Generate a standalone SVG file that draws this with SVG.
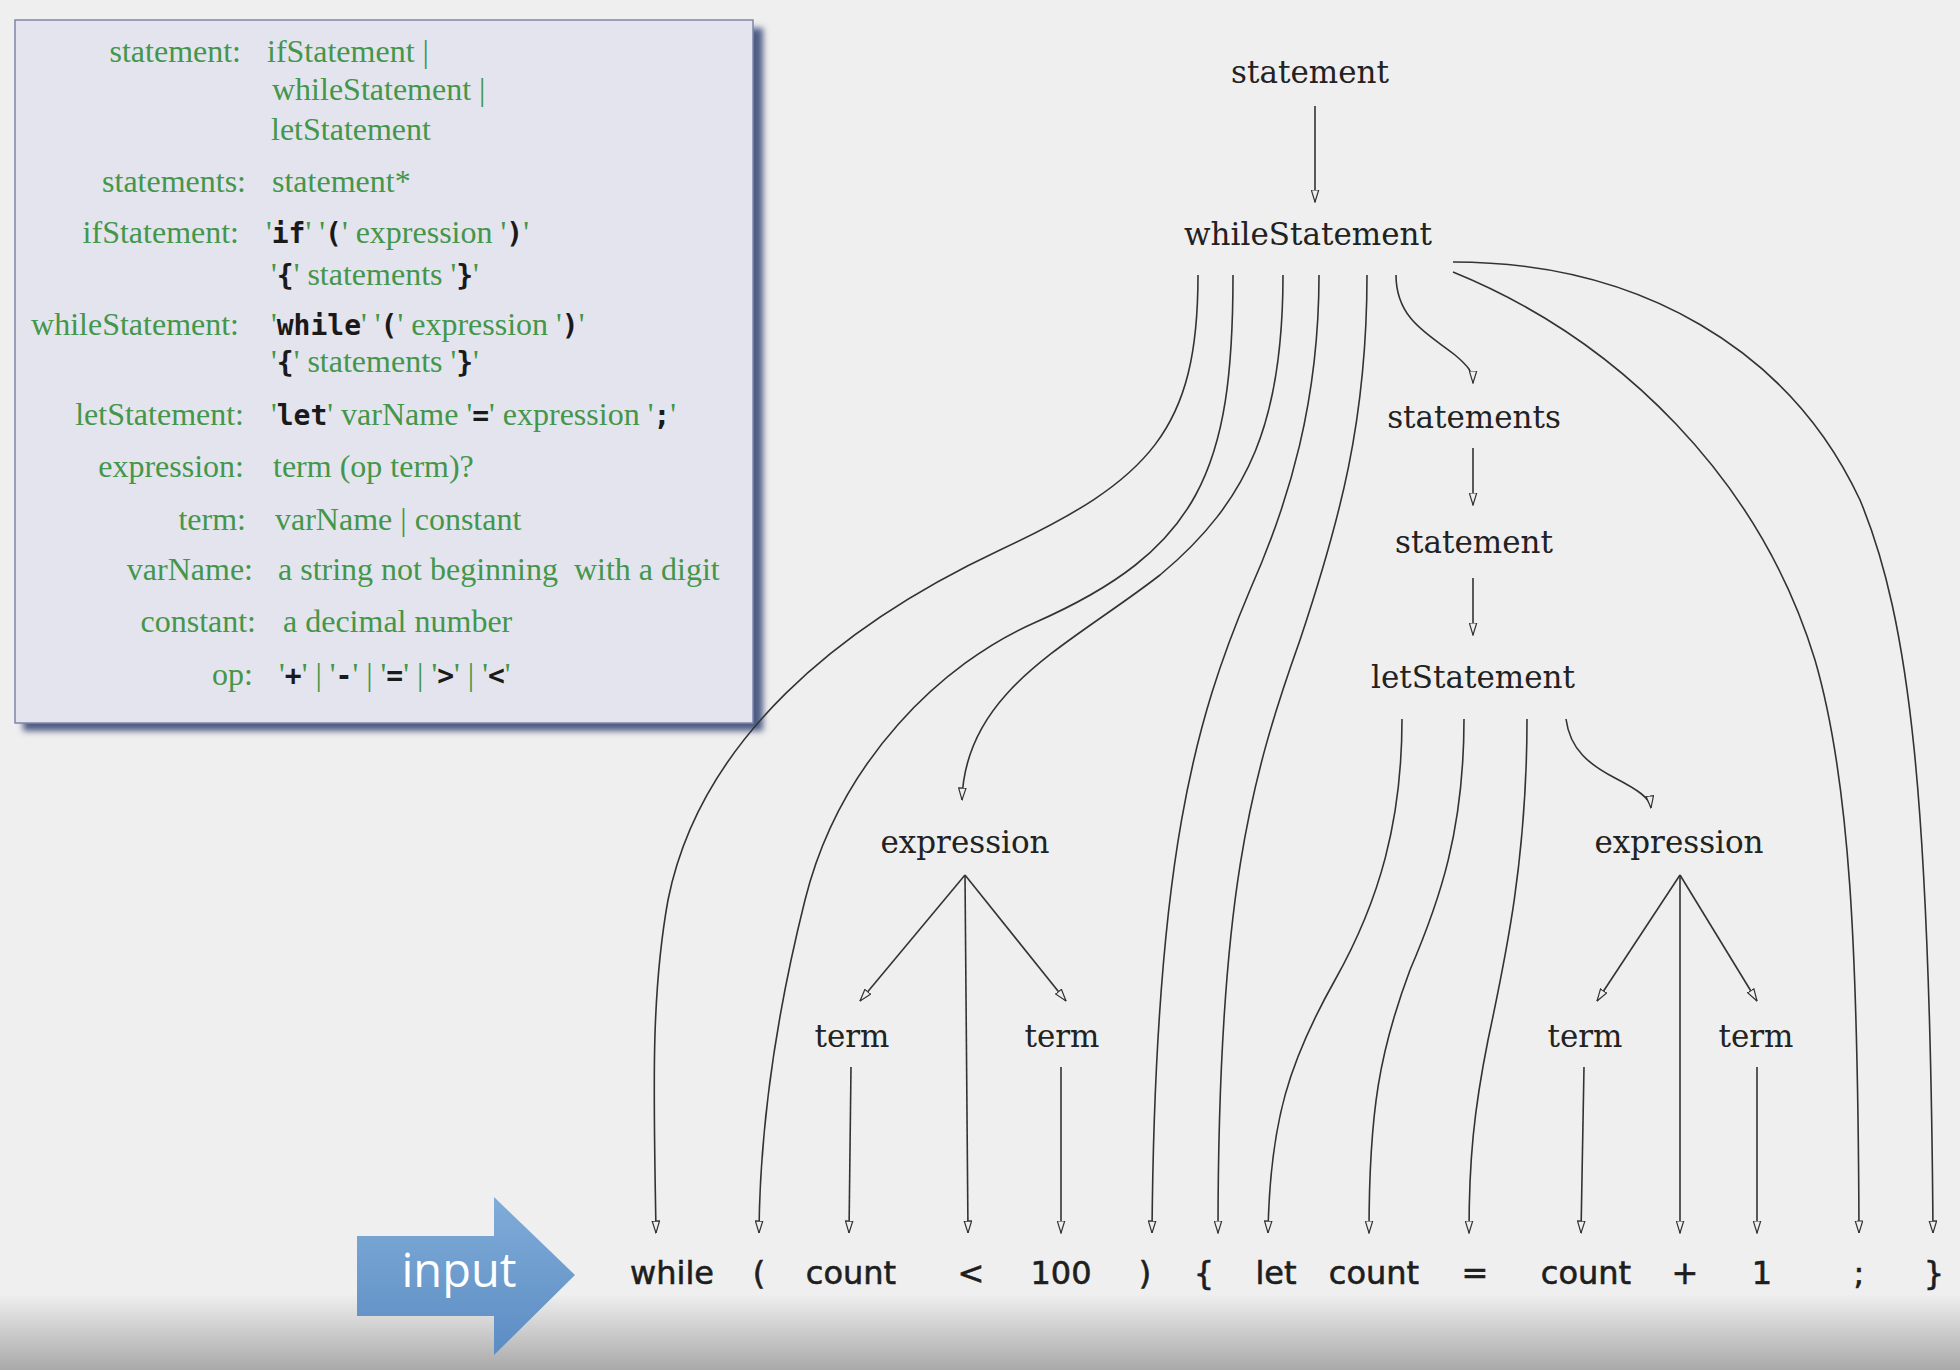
<svg xmlns="http://www.w3.org/2000/svg" width="1960" height="1370" viewBox="0 0 1960 1370">
<defs>
<style>
.g{font-family:"Liberation Serif",serif;font-size:32px;fill:#43964a}
.k{font-family:"DejaVu Sans Mono",monospace;font-weight:bold;font-size:28px;fill:#1a1a1a}
.n{font-family:"DejaVu Serif",serif;font-size:31px;fill:#222;text-anchor:middle}
.t{font-family:"DejaVu Sans",sans-serif;font-size:32px;fill:#1e1e1e;stroke:#1e1e1e;stroke-width:0.6;text-anchor:middle}
.c{fill:none;stroke:#333;stroke-width:1.6;marker-end:url(#arr)}
</style>
<marker id="arr" viewBox="0 0 13 9" refX="12.5" refY="4.5" markerWidth="13" markerHeight="9" markerUnits="userSpaceOnUse" orient="auto">
<path d="M0.5,0.8 L12.5,4.5 L0.5,8.2 Z" fill="#efefef" stroke="#333" stroke-width="1.2"/>
</marker>
<linearGradient id="bot" x1="0" y1="0" x2="0" y2="1">
<stop offset="0" stop-color="#eeeeee"/>
<stop offset="1" stop-color="#a9a9a9"/>
</linearGradient>
<linearGradient id="blue" x1="0" y1="0" x2="0" y2="1">
<stop offset="0" stop-color="#80acd8"/>
<stop offset="1" stop-color="#5b8cc3"/>
</linearGradient>
<filter id="sh" x="-5%" y="-5%" width="110%" height="110%">
<feGaussianBlur stdDeviation="3"/>
</filter>
</defs>
<rect x="0" y="0" width="1960" height="1370" fill="#efefef"/>
<rect x="0" y="1295" width="1960" height="75" fill="url(#bot)"/>

<g id="grammar">
<rect x="23" y="28" width="740" height="703" fill="#4f5d86" filter="url(#sh)"/>
<rect x="15" y="20" width="738" height="703" fill="#e4e4ee" stroke="#7f87a8" stroke-width="1.5"/>
<text class="g" x="241" y="62" text-anchor="end">statement:</text>
<text class="g" x="267" y="62">ifStatement |</text>
<text class="g" x="272" y="100">whileStatement |</text>
<text class="g" x="271" y="140">letStatement</text>
<text class="g" x="246" y="192" text-anchor="end">statements:</text>
<text class="g" x="272" y="192">statement*</text>
<text class="g" x="239" y="243" text-anchor="end">ifStatement:</text>
<text class="g" x="266" y="243">'<tspan class="k">if</tspan>' '<tspan class="k">(</tspan>' expression '<tspan class="k">)</tspan>'</text>
<text class="g" x="271" y="285">'<tspan class="k">{</tspan>' statements '<tspan class="k">}</tspan>'</text>
<text class="g" x="239" y="335" text-anchor="end">whileStatement:</text>
<text class="g" x="271" y="335">'<tspan class="k">while</tspan>' '<tspan class="k">(</tspan>' expression '<tspan class="k">)</tspan>'</text>
<text class="g" x="271" y="372">'<tspan class="k">{</tspan>' statements '<tspan class="k">}</tspan>'</text>
<text class="g" x="244" y="425" text-anchor="end">letStatement:</text>
<text class="g" x="271" y="425">'<tspan class="k">let</tspan>' varName '<tspan class="k">=</tspan>' expression '<tspan class="k">;</tspan>'</text>
<text class="g" x="244" y="477" text-anchor="end">expression:</text>
<text class="g" x="273" y="477">term (op term)?</text>
<text class="g" x="246" y="530" text-anchor="end">term:</text>
<text class="g" x="275" y="530">varName | constant</text>
<text class="g" x="253" y="580" text-anchor="end">varName:</text>
<text class="g" x="278" y="580" xml:space="preserve">a string not beginning  with a digit</text>
<text class="g" x="256" y="632" text-anchor="end">constant:</text>
<text class="g" x="283" y="632">a decimal number</text>
<text class="g" x="253" y="685" text-anchor="end">op:</text>
<text class="g" x="279" y="685">'<tspan class="k">+</tspan>' | '<tspan class="k">-</tspan>' | '<tspan class="k">=</tspan>' | '<tspan class="k">&gt;</tspan>' | '<tspan class="k">&lt;</tspan>'</text>
</g>

<g id="input">
<path d="M357,1236 L494,1236 L494,1197 L575,1275 L494,1355 L494,1316 L357,1316 Z" fill="url(#blue)"/>
<text x="459" y="1287" text-anchor="middle" font-family="Open Sans, sans-serif" font-size="47" fill="#ffffff">input</text>
</g>

<g id="nodes">
<g id="n-statement"><text class="n" x="1310" y="83">statement</text></g>
<g id="n-whileStatement"><text class="n" x="1308" y="245">whileStatement</text></g>
<g id="n-statements"><text class="n" x="1474" y="428">statements</text></g>
<g id="n-statement2"><text class="n" x="1474" y="553">statement</text></g>
<g id="n-letStatement"><text class="n" x="1473" y="688">letStatement</text></g>
<g id="n-expression1"><text class="n" x="965" y="853">expression</text></g>
<g id="n-expression2"><text class="n" x="1679" y="853">expression</text></g>
<g id="n-term1"><text class="n" x="852" y="1047">term</text></g>
<g id="n-term2"><text class="n" x="1062" y="1047">term</text></g>
<g id="n-term3"><text class="n" x="1585" y="1047">term</text></g>
<g id="n-term4"><text class="n" x="1756" y="1047">term</text></g>
</g>

<g id="tokens">
<g id="t-while"><text class="t" x="672" y="1284">while</text></g>
<g id="t-lparen"><text class="t" x="759" y="1284">(</text></g>
<g id="t-count1"><text class="t" x="851" y="1284">count</text></g>
<g id="t-lt"><text class="t" x="971" y="1284">&lt;</text></g>
<g id="t-100"><text class="t" x="1061" y="1284">100</text></g>
<g id="t-rparen"><text class="t" x="1145" y="1284">)</text></g>
<g id="t-lbrace"><text class="t" x="1204" y="1284">{</text></g>
<g id="t-let"><text class="t" x="1276" y="1284">let</text></g>
<g id="t-count2"><text class="t" x="1374" y="1284">count</text></g>
<g id="t-eq"><text class="t" x="1475" y="1284">=</text></g>
<g id="t-count3"><text class="t" x="1586" y="1284">count</text></g>
<g id="t-plus"><text class="t" x="1685" y="1284">+</text></g>
<g id="t-1"><text class="t" x="1762" y="1284">1</text></g>
<g id="t-semi"><text class="t" x="1859" y="1284">;</text></g>
<g id="t-rbrace"><text class="t" x="1934" y="1284">}</text></g>
</g>

<g id="connectors">
<path class="c" d="M1315,106 L1315,202"/>
<path class="c" d="M1198,275 C1198,430 1150,480 1000,550 C840,625 700,740 668,900 C650,1000 654,1100 656,1233"/>
<path class="c" d="M1233,275 C1233,470 1200,550 1034,623 C943,663 840,760 805,900 C785,980 760,1100 759,1233"/>
<path class="c" d="M1283,275 C1283,420 1250,500 1160,575 C1070,645 965,690 962,800"/>
<path class="c" d="M1319,275 C1319,400 1290,500 1250,590 C1195,720 1155,860 1152,1233"/>
<path class="c" d="M1367,275 C1367,420 1340,520 1300,640 C1250,780 1218,900 1218,1233"/>
<path class="c" d="M1396,275 C1396,320 1430,335 1455,355 C1468,366 1473,372 1473,383"/>
<path class="c" d="M1453,272 C1620,340 1760,480 1815,660 C1850,780 1858,950 1859,1233"/>
<path class="c" d="M1453,262 C1640,262 1790,350 1860,500 C1910,620 1930,800 1933,1233"/>
<path class="c" d="M1473,448 L1473,505"/>
<path class="c" d="M1473,578 L1473,635"/>
<path class="c" d="M1402,719 C1402,820 1380,900 1335,980 C1290,1060 1270,1120 1268,1233"/>
<path class="c" d="M1464,719 C1464,830 1440,900 1410,970 C1380,1050 1369,1110 1369,1233"/>
<path class="c" d="M1527,719 C1527,860 1505,960 1488,1040 C1474,1110 1469,1160 1469,1233"/>
<path class="c" d="M1566,719 C1570,750 1590,765 1615,778 C1638,790 1650,798 1651,808"/>
<path class="c" d="M965,875 L860,1001"/>
<path class="c" d="M965,875 L1066,1001"/>
<path class="c" d="M965,875 L968,1233"/>
<path class="c" d="M851,1067 L849,1233"/>
<path class="c" d="M1061,1067 L1061,1233"/>
<path class="c" d="M1680,875 L1597,1001"/>
<path class="c" d="M1680,875 L1757,1001"/>
<path class="c" d="M1680,875 L1680,1233"/>
<path class="c" d="M1584,1067 L1581,1233"/>
<path class="c" d="M1757,1067 L1757,1233"/>
</g>
</svg>
